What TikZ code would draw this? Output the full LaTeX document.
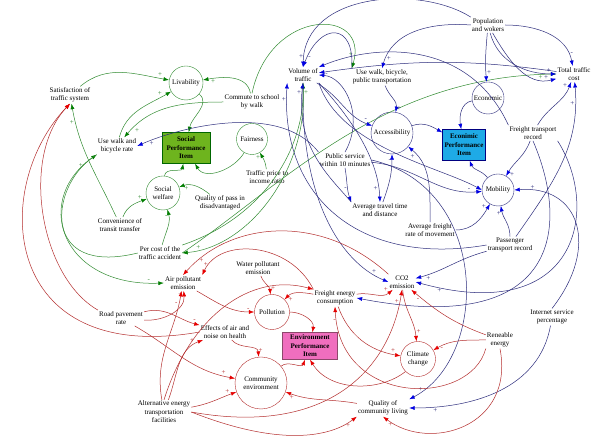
\documentclass[tikz,border=0pt]{standalone}
\usepackage{fontspec}
\setmainfont{Liberation Serif}
\usetikzlibrary{arrows.meta}
\definecolor{grline}{RGB}{50,140,50}
\definecolor{grhead}{RGB}{0,125,0}
\definecolor{blline}{RGB}{45,45,125}
\definecolor{blhead}{RGB}{0,0,225}
\definecolor{rdline}{RGB}{180,45,45}
\definecolor{rdhead}{RGB}{230,0,0}
\definecolor{socfill}{RGB}{110,180,30}
\definecolor{ecofill}{RGB}{30,170,230}
\definecolor{envfill}{RGB}{240,110,190}

\begin{document}
\begin{tikzpicture}
  [x=1pt,y=1pt,font=\fontsize{7}{8.5}\selectfont,
   every node/.style={align=center,inner sep=1pt},
   gvar/.style={circle,draw=grline},
   bvar/.style={circle,draw=blline},
   rvar/.style={circle,draw=rdline},
   sbox/.style={draw=green!40!black,fill=socfill,font=\fontsize{7}{8.5}\selectfont\bfseries,minimum width=48,minimum height=31},
   ebox/.style={draw=blue!50!black,fill=ecofill,font=\fontsize{7}{8.5}\selectfont\bfseries,minimum width=43,minimum height=31},
   vbox/.style={draw=magenta!50!black,fill=envfill,font=\fontsize{7}{8.5}\selectfont\bfseries,minimum width=55,minimum height=27},
   gr/.style={color=grline,line width=.5pt,-{Latex[length=5.5pt,width=4pt,color=grhead]}},
   bl/.style={color=blline,line width=.5pt,-{Latex[length=5.5pt,width=4pt,color=blhead]}},
   rd/.style={color=rdline,line width=.5pt,-{Latex[length=5.5pt,width=4pt,color=rdhead]}},
   sg/.style={font=\fontsize{7}{7}\selectfont,inner sep=.8pt}]
  \fill[white] (0,0) rectangle (600,447);
  \useasboundingbox (0,0) rectangle (600,447);

  % social
  \node (sat) at (70,352) {Satisfaction of\\traffic system};
  \node (comm) at (252,345) {Commute to school\\by walk};
  \node (uwb) at (117,301) {Use walk and\\bicycle rate};
  \node[sbox] (spi) at (186,299) {Social\\Performance\\Item};
  \node (qpd) at (220,244) {Quality of pass in\\disadvantaged};
  \node (conv) at (120,222) {Convenience of\\transit transfer};
  \node (tpi) at (267,270) {Traffic price to\\income ratio};
  \node (pcost) at (160,194) {Per cost of the\\traffic accident};
  \node[gvar,minimum size=34] (liv) at (186,364) {Livability};
  \node[gvar,minimum size=31] (fair) at (252,308) {Fairness};
  \node[gvar,minimum size=34] (swel) at (163,254) {Social\\welfare};

  % economic
  \node (vol) at (303,372) {Volume of\\traffic};
  \node (uwp) at (382,370) {Use walk, bicycle,\\public transportation};
  \node (pop) at (488,422) {Population\\and wokers};
  \node (ttc) at (574,373) {Total traffic\\cost};
  \node[bvar,minimum size=32] (econ) at (488,349) {Economic};
  \node[bvar,minimum size=42] (acc) at (392,314) {Accessibility};
  \node[ebox] (epi) at (464,302) {Econimic\\Performance\\Item};
  \node (ftr) at (533,314) {Freight transport\\record};
  \node (psw) at (345,287) {Public service\\within 10 minutes};
  \node[bvar,minimum size=32] (mob) at (498,257) {Mobility};
  \node (att) at (380,237) {Average travel time\\and distance};
  \node (afr) at (430,217) {Average freight\\rate of movement};
  \node (ptr) at (510,202) {Passenger\\transport record};
  \node (co2) at (402,165) {CO2\\emission};
  \node (isp) at (552,130) {Internet service\\percentage};

  % environment
  \node (fec) at (335,149) {Freight energy\\consumption};
  \node (ren) at (500,107) {Reneable\\energy};
  \node[rvar,minimum size=35] (clim) at (418,88) {Climate\\change};
  \node[vbox] (envi) at (310,101) {Environment\\Performance\\Item};
  \node (qcl) at (383,39) {Quality of\\community living};
  \node (wpe) at (258,179) {Water pollutant\\emission};
  \node (ape) at (183,164) {Air pollutant\\emission};
  \node[rvar,minimum size=35] (poll) at (272,135) {Pollution};
  \node (rpr) at (121,129) {Road pavement\\rate};
  \node (eff) at (225,115) {Effects of air and\\noise on health};
  \node[rvar,minimum size=52] (cenv) at (261,64) {Community\\environment};
  \node (alt) at (164,35) {Alternative energy\\transportation\\facilities};

  % green links
  \foreach \a/\b/\o/\i/\s in {sat/liv/40/170/+,uwb/liv/75/210/+,comm/liv/100/10/+,
      comm/uwb/180/50/+,qpd/swel/140/20/+,conv/swel/70/200/+,conv/sat/115/-80/+,
      pcost/swel/75/-75/-,tpi/fair/95/-60/+}
    \draw[gr] (\a) to[out=\o,in=\i] node[sg,pos=.88,auto]{\s} (\b);
  \foreach \a/\b/\o/\i in {liv/spi/-40/80,fair/spi/-120/-60,swel/spi/85/-100}
    \draw[gr] (\a) to[out=\o,in=\i] (\b);
  \draw[gr] (pcost.west) .. controls (40,170) and (50,260) .. node[sg,pos=.9,left]{+} (uwb.south west);
  \draw[gr] (uwb.south west) .. controls (30,250) and (60,160) .. node[sg,pos=.95,above]{-} (ape.west);
  \draw[gr] (vol.south) .. controls (310,280) and (250,200) .. node[sg,pos=.92,above]{+} (pcost.east);
  \draw[gr] (pcost.north east) .. controls (265,230) and (305,300) .. node[sg,pos=.95,right]{+} (vol.south);
  \draw[gr] (pcost.east) .. controls (280,260) and (380,370) .. node[sg,pos=.97,below]{+} (ttc.west);
  \draw[gr] (comm.north) .. controls (270,440) and (370,440) .. node[sg,pos=.92,left]{+} (uwp.north west);

  % blue links
  \foreach \a/\b/\o/\i/\s in {pop/econ/-95/95/+,pop/ttc/-75/180/+,pop/ttc/-60/195/+,
      pop/ttc/0/100/-,vol/acc/-30/160/-,uwp/acc/-70/80/+,ftr/mob/-110/60/+,
      ftr/ttc/60/-110/+,ptr/mob/90/-80/+,ptr/ttc/55/-85/+,
      att/acc/70/-90/-,afr/acc/90/-40/+,ptr/co2/195/15/+,isp/qcl/-100/0/+,
      psw/mob/-5/185/-,afr/mob/0/-120/+}
    \draw[bl] (\a) to[out=\o,in=\i] node[sg,pos=.88,auto]{\s} (\b);
  \foreach \a/\b/\o/\i in {acc/epi/20/150,econ/epi/190/100,mob/epi/130/-70,ttc/vol/172/8}
    \draw[bl] (\a) to[out=\o,in=\i] (\b);
  \draw[bl] (psw.south) to[out=-80,in=110] node[sg,pos=.6,left]{-} (att.north west);
  \draw[bl] (pop.north west) .. controls (420,462) and (305,455) .. node[sg,pos=.95,left]{+} (vol.north);
  \draw[bl] (uwp.north west) .. controls (355,425) and (320,425) .. node[sg,pos=.92,right]{-} (vol.north);
  \draw[bl] (pop.west) .. controls (430,425) and (392,415) .. node[sg,pos=.9,right]{+} (uwp.north);
  \draw[bl] (ftr.north west) .. controls (470,405) and (380,405) .. (vol.north east);
  \draw[bl] (psw.north) .. controls (365,330) and (345,370) .. node[sg,pos=.9,above]{-} (vol.east);
  \draw[bl] (vol.south east) .. controls (350,330) and (378,290) .. node[sg,pos=.9,left]{+} (att.north);
  \draw[bl] (att.north west) .. controls (330,270) and (295,300) .. node[sg,pos=.95,left]{+} (vol.south);
  \draw[bl] (ptr.west) .. controls (360,180) and (280,250) .. node[sg,pos=.95,left]{+} (vol.south west);
  \draw[bl] (vol.south) .. controls (300,250) and (340,185) .. node[sg,pos=.9,above]{+} (co2.west);
  \draw[bl] (vol.south east) .. controls (340,300) and (440,280) .. (mob.west);
  \draw[bl] (psw.north west) .. controls (280,345) and (180,320) .. node[sg,pos=.9,below]{+} (uwb.east);
  \draw[bl] (psw.east) .. controls (490,260) and (490,90) .. node[sg,pos=.95,above]{+} (qcl.north east);
  \draw[bl] (ftr.south) .. controls (570,220) and (560,110) .. (fec.east);
  \draw[bl] (ftr.south east) .. controls (600,240) and (580,120) .. node[sg,pos=.95,below]{+} (co2.east);
  \draw[bl] (isp.north) .. controls (600,200) and (580,262) .. node[sg,pos=.9,above]{+} (mob.east);

  % red links
  \foreach \a/\b/\o/\i/\s in {rpr/eff/15/165/-,rpr/ape/-5/-85/+,rpr/cenv/-30/170/+,
      alt/ape/100/-100/-,alt/eff/70/200/+,qcl/cenv/170/-20/+,eff/cenv/-50/95/+,
      alt/cenv/10/200/+,wpe/poll/-70/95/+,ape/poll/-30/180/-,fec/poll/170/45/+,
      fec/co2/10/220/+,fec/clim/-70/170/+,co2/clim/-85/95/+,ren/clim/180/30/-,
      ren/co2/160/-40/-}
    \draw[rd] (\a) to[out=\o,in=\i] node[sg,pos=.88,auto]{\s} (\b);
  \foreach \a/\b/\o/\i in {cenv/envi/40/-110,poll/envi/0/80}
    \draw[rd] (\a) to[out=\o,in=\i] (\b);
  \draw[rd] (rpr.north west) .. controls (40,170) and (20,290) .. (sat.south);
  \draw[rd] (eff.west) .. controls (0,80) and (-10,260) .. (sat.south);
  \draw[rd] (alt.east) .. controls (330,10) and (390,80) .. node[sg,pos=.95,left]{+} (co2.south);
  \draw[rd] (alt.north) .. controls (190,130) and (250,175) .. (fec.north west);
  \draw[rd] (alt.east) .. controls (280,0) and (330,10) .. node[sg,pos=.9,below]{+} (qcl.south west);
  \draw[rd] (co2.north west) .. controls (320,235) and (230,225) .. node[sg,pos=.9,right]{+} (ape.north);
  \draw[rd] (fec.north west) .. controls (290,205) and (220,210) .. node[sg,pos=.9,left]{+} (ape.north east);
  \draw[rd] (ren.south) .. controls (515,20) and (430,-5) .. node[sg,pos=.95,below]{+} (qcl.south);
  \draw[rd] (ren.south west) .. controls (470,40) and (340,40) .. node[sg,pos=.95,left]{-} (fec.south);
  \draw[rd] (clim.south west) .. controls (380,55) and (330,55) .. (envi.south);

\end{tikzpicture}
\end{document}
